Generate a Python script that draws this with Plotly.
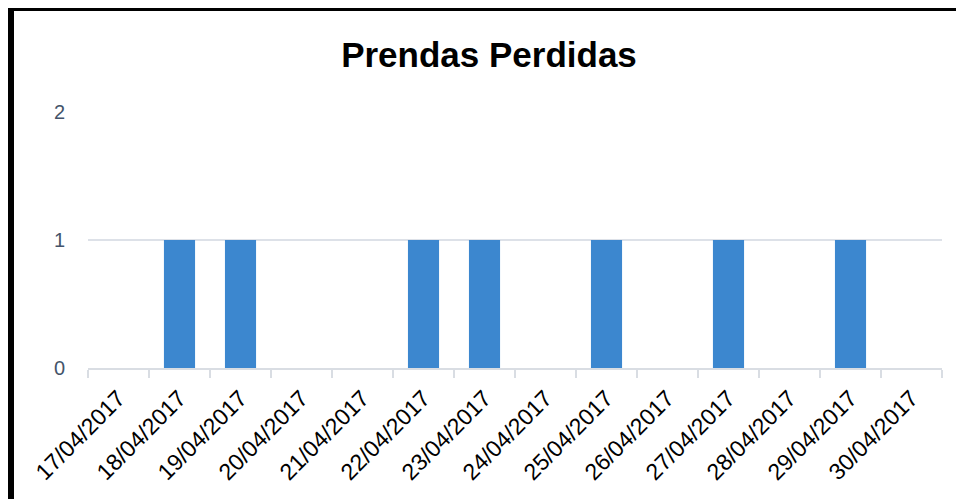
import plotly.graph_objects as go

categories = ["17/04/2017", "18/04/2017", "19/04/2017", "20/04/2017", "21/04/2017",
              "22/04/2017", "23/04/2017", "24/04/2017", "25/04/2017", "26/04/2017",
              "27/04/2017", "28/04/2017", "29/04/2017", "30/04/2017"]
values = [0, 1, 1, 0, 0, 1, 1, 0, 1, 0, 1, 0, 1, 0]
y_ticks = [0, 1, 2]

W, H = 956, 491
L, R, T, B = 80, 22, 104, 131
PW, PH = W - L - R, H - T - B

fig = go.Figure()
fig.add_trace(go.Bar(
    x=categories, y=values,
    marker=dict(color="#3c87cf", line=dict(width=0)),
))

fig.update_layout(
    width=W, height=H,
    margin=dict(l=L, r=R, t=T, b=B, autoexpand=False),
    paper_bgcolor="white", plot_bgcolor="white",
    showlegend=False,
    title=dict(text="<b>Prendas Perdidas</b>", x=(489 - 8) / W, xanchor="center",
               y=1 - 47 / H, yanchor="middle",
               font=dict(family="Liberation Sans, Arial", size=35, color="black")),
    font=dict(family="Liberation Sans, Arial"),
    xaxis=dict(
        type="category", tickangle=-45, tickson="boundaries",
        ticks="outside", ticklen=8, tickcolor="#d9dde3", tickwidth=1.5,
        showline=True, linecolor="#d9dde3", linewidth=1.5,
        showgrid=False,
        ticklabelstandoff=6,
        tickfont=dict(size=23, color="black"),
    ),
    yaxis=dict(
        range=[0, 2], tickvals=y_ticks,
        showgrid=True, gridcolor="#dde1e8", gridwidth=1.5,
        zeroline=False, showline=False, ticks="",
        ticklabelstandoff=22,
        tickfont=dict(size=20, color="#44546a"),
    ),
    bargap=0.49,
    shapes=[
        dict(type="line", xref="paper", yref="paper", x0=-(L - 3) / PW, x1=-(L - 3) / PW,
             y0=-B / PH, y1=1 + T / PH, line=dict(color="black", width=6)),
        dict(type="line", xref="paper", yref="paper", x0=-L / PW, x1=1 + R / PW,
             y0=1 + (T - 1) / PH, y1=1 + (T - 1) / PH, line=dict(color="black", width=4)),
    ],
)

fig.write_html("out.html")
